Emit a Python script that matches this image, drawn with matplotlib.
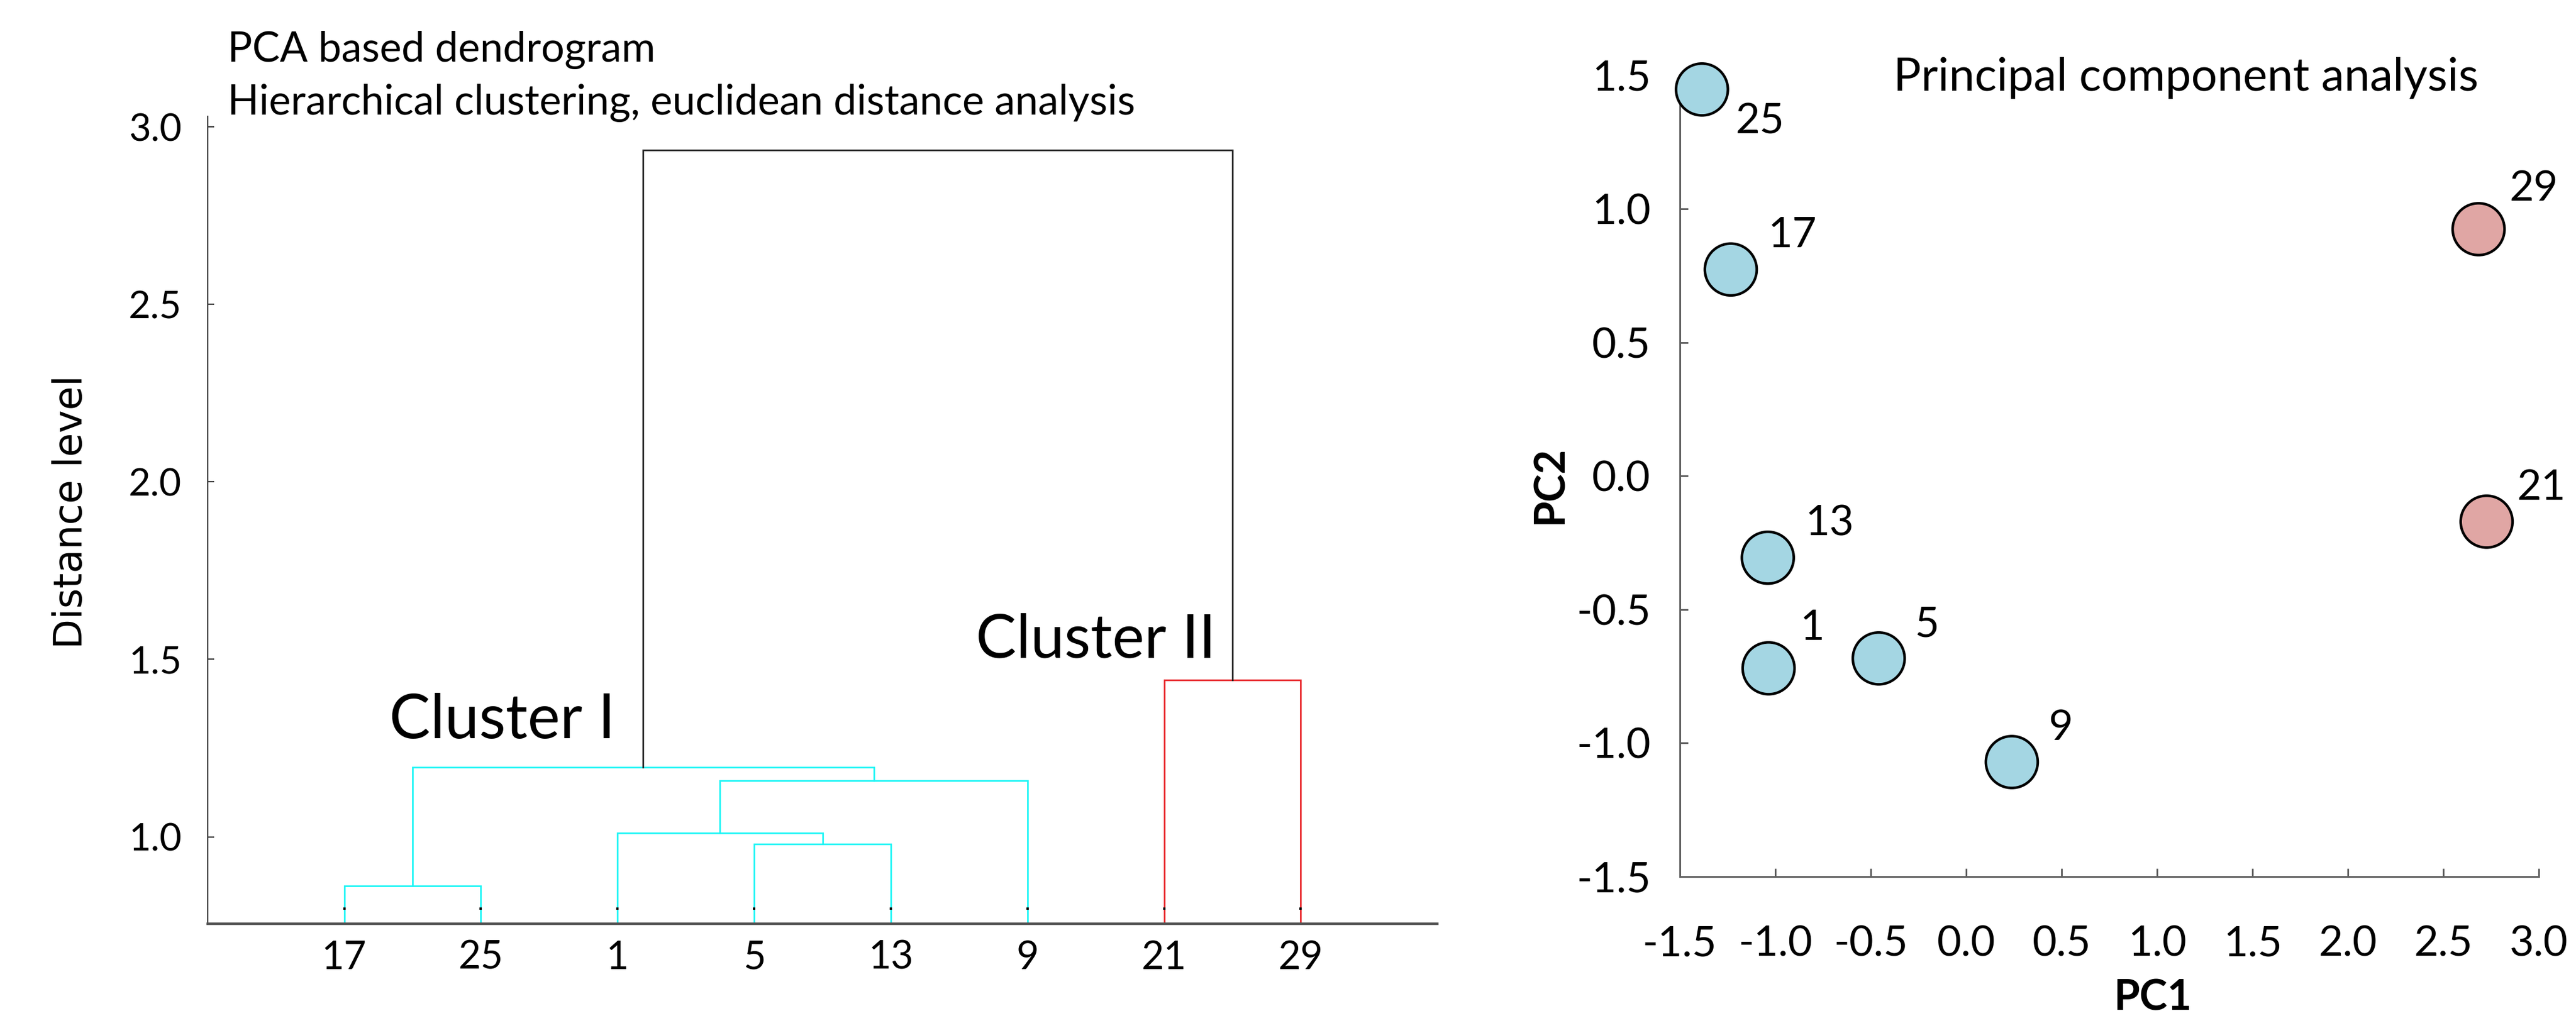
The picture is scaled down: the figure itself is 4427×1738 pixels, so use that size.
import matplotlib
matplotlib.use("Agg")
import matplotlib.pyplot as plt
from matplotlib.ticker import FormatStrFormatter, MultipleLocator

plt.rcParams['font.family'] = ['Lato', 'DejaVu Sans']
plt.rcParams['axes.unicode_minus'] = False

# ---- dendrogram data (leaves in plotted order) ----
leaf_labels = ['17', '25', '1', '5', '13', '9', '21', '29']
# merges: node ids 0..7 are leaves, new nodes numbered from 8 upward
link_a = [0, 3, 2, 10, 8, 6, 12]
link_b = [1, 4, 9, 5, 11, 7, 13]
link_height = [0.862, 0.980, 1.010, 1.158, 1.196, 1.442, 2.935]
link_group = ['I', 'I', 'I', 'I', 'I', 'II', 'top']

# ---- PCA scores ----
samples = ['25', '17', '13', '1', '5', '9', '29', '21']
pc1 = [-1.384, -1.233, -1.039, -1.035, -0.458, 0.239, 2.684, 2.726]
pc2 = [1.447, 0.773, -0.306, -0.720, -0.683, -1.071, 0.924, -0.171]
cluster = ['I', 'I', 'I', 'I', 'I', 'I', 'II', 'II']

link_colors = {'I': '#1ef5f5', 'II': '#e8262a', 'top': '#222222'}
point_colors = {'I': '#a4d6e3', 'II': '#e0a6a4'}
# label offsets in points (dx, dy)
label_offsets = {'25': (36, -20), '17': (38, 21), '13': (38, 21), '1': (27, 25),
                 '5': (30, 21), '9': (30, 21), '29': (34, 25), '21': (34, 21)}

fig = plt.figure(figsize=(4427 / 200, 1738 / 200), dpi=200)

# ================= dendrogram =================
ax = fig.add_axes([0.0806, 0.0863, 0.4774, 0.7987])
ybot = 0.755
xpos = {i: i + 1 for i in range(len(leaf_labels))}
ypos = {i: ybot - 1 for i in range(len(leaf_labels))}
for k, (a, b, h, g) in enumerate(zip(link_a, link_b, link_height, link_group)):
    node = len(leaf_labels) + k
    xa, xb = xpos[a], xpos[b]
    ax.plot([xa, xa, xb, xb], [ypos[a], h, h, ypos[b]],
            color=link_colors[g], lw=1.0, solid_joinstyle='miter')
    xpos[node] = (xa + xb) / 2
    ypos[node] = h

# tiny leaf marks just above the axis
ax.plot(range(1, len(leaf_labels) + 1), [0.797] * len(leaf_labels), 's',
        color='k', ms=1.5, mew=0)

ax.set_xlim(0, 9)
ax.set_ylim(ybot, 3.03)
ax.set_xticks(range(1, len(leaf_labels) + 1))
ax.set_xticklabels(leaf_labels)
ax.yaxis.set_major_locator(MultipleLocator(0.5))
ax.yaxis.set_major_formatter(FormatStrFormatter('%.1f'))
ax.tick_params(axis='x', length=0, pad=10, labelsize=24)
ax.tick_params(axis='y', direction='in', length=4, width=0.8, pad=16,
               labelsize=23.5, color='#333333')
for s in ('top', 'right'):
    ax.spines[s].set_visible(False)
ax.spines['left'].set_color('#333333')
ax.spines['left'].set_linewidth(0.8)
ax.spines['bottom'].set_color('#555555')
ax.spines['bottom'].set_linewidth(1.6)

ax.text(1.33, 1.278, 'Cluster I', fontsize=38, va='baseline', ha='left')
ax.text(5.62, 1.504, 'Cluster II', fontsize=37.5, va='baseline', ha='left')

fig.text(0.0883, 0.939, 'PCA based dendrogram', fontsize=25.5, va='baseline')
fig.text(0.0883, 0.8867, 'Hierarchical clustering, euclidean distance analysis',
         fontsize=25.5, va='baseline')
fig.text(0.0275, 0.4937, 'Distance level', fontsize=24, rotation=90,
         ha='center', va='center', family='DejaVu Sans')

# ================= PCA scatter =================
bx = fig.add_axes([0.6521, 0.1329, 0.3335, 0.7926])
bx.scatter(pc1, pc2, s=1030, c=[point_colors[c] for c in cluster],
           edgecolors='black', linewidths=1.6, zorder=3, clip_on=False)
for name, x, y in zip(samples, pc1, pc2):
    dx, dy = label_offsets[name]
    bx.annotate(name, (x, y), xytext=(dx, dy), textcoords='offset points',
                ha='center', va='center', fontsize=26)

bx.set_xlim(-1.5, 3.0)
bx.set_ylim(-1.5, 1.5)
bx.xaxis.set_major_locator(MultipleLocator(0.5))
bx.yaxis.set_major_locator(MultipleLocator(0.5))
bx.xaxis.set_major_formatter(FormatStrFormatter('%.1f'))
bx.yaxis.set_major_formatter(FormatStrFormatter('%.1f'))
bx.tick_params(axis='x', direction='in', length=5, width=1, pad=30,
               labelsize=26, color='#555555')
bx.tick_params(axis='y', direction='in', length=5, width=1, pad=18,
               labelsize=26, color='#555555')
for s in ('top', 'right'):
    bx.spines[s].set_visible(False)
for s in ('left', 'bottom'):
    bx.spines[s].set_color('#606060')
    bx.spines[s].set_linewidth(1.1)

bx.text(0.2486, 0.9808, 'Principal component analysis', transform=bx.transAxes,
        fontsize=28.5, va='baseline', ha='left')
fig.text(0.6018, 0.52, 'PC2', fontsize=26, fontweight='bold', rotation=90,
         ha='center', va='center')
fig.text(0.8356, 0.0127, 'PC1', fontsize=26, fontweight='bold',
         ha='center', va='center')

fig.savefig('out.png', dpi=200, facecolor='white')
